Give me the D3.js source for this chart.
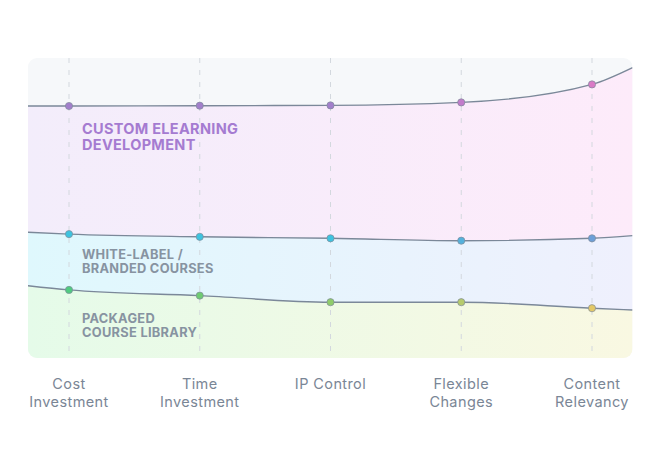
<!DOCTYPE html>
<html><head><meta charset="utf-8">
<script src="https://cdn.jsdelivr.net/npm/d3@7"></script>
<style>
html,body{margin:0;padding:0;background:#fff;}
svg{display:block;}
</style></head>
<body>
<svg id="chart" width="660" height="460"></svg>
<script>
// ---- data ----
const categories = ["Cost Investment","Time Investment","IP Control","Flexible Changes","Content Relevancy"];
const categoryLines = [["Cost","Investment"],["Time","Investment"],["IP Control"],["Flexible","Changes"],["Content","Relevancy"]];
const seriesNames = ["Custom eLearning Development","White-Label / Branded Courses","Packaged Course Library"];
const customValues   = [84.0, 84.1, 84.2, 85.2, 91.2];
const whiteLabelValues = [41.3, 40.4, 39.9, 39.1, 39.9];
const packagedValues = [22.7, 20.8, 18.6, 18.6, 16.6];
// values where each line meets the left / right edge of the panel
const customEdges = [84.0, 96.8];
const whiteLabelEdges = [41.9, 40.8];
const packagedEdges = [24.1, 16.0];
const labelLines = [["CUSTOM ELEARNING","DEVELOPMENT"],["WHITE-LABEL /","BRANDED COURSES"],["PACKAGED","COURSE LIBRARY"]];
const dotColors = [
  ["#a27fcb","#a27fcb","#a27fcb","#c27ccb","#d97ac6"],
  ["#3ec3df","#3ec3df","#3ec3df","#55b1dc","#6d9fd8"],
  ["#50cb80","#6fcb72","#8fcc6b","#b6cb6d","#e3c866"]
];

(function(){
// ---- layout ----
const svg = d3.select("#chart");
const x = d3.scaleLinear().domain([0, 4]).range([69, 592]);
const y = d3.scaleLinear().domain([0, 100]).range([358, 58]);
const edgeIdx = [-0.314, 4.31];
const pLeft = x(edgeIdx[0]), pRight = x(edgeIdx[1]);
const pTop = y(100), pBottom = y(0);

function pts(vals, edges){
  const a = [[edgeIdx[0], edges[0]]];
  vals.forEach((v,i)=>a.push([i, v]));
  a.push([edgeIdx[1], edges[1]]);
  return a;
}
const series = [pts(customValues, customEdges), pts(whiteLabelValues, whiteLabelEdges), pts(packagedValues, packagedEdges)];

const defs = svg.append("defs");
defs.append("clipPath").attr("id","panel").append("rect")
  .attr("x", pLeft).attr("y", pTop).attr("width", pRight-pLeft).attr("height", pBottom-pTop).attr("rx", 9);

function grad(id, c1, c2){
  const g = defs.append("linearGradient").attr("id", id).attr("x1","0").attr("x2","1").attr("y1","0").attr("y2","0");
  g.append("stop").attr("offset","0%").attr("stop-color", c1);
  g.append("stop").attr("offset","100%").attr("stop-color", c2);
}
grad("gCustom", "#f3edfb", "#fdebfa");
grad("gWhite", "#dff8fd", "#eff0fd");
grad("gPack", "#e5fbe9", "#f9f8e2");

const panel = svg.append("g").attr("clip-path","url(#panel)");
panel.append("rect").attr("x", pLeft).attr("y", pTop).attr("width", pRight-pLeft).attr("height", pBottom-pTop).attr("fill","#f6f8fa");

const curve = d3.curveMonotoneX;
const line = d3.line().curve(curve).x(d=>x(d[0])).y(d=>y(d[1]));

function bandPath(upper, lower){
  let p = line(upper);
  if (lower) p += "L" + line(lower.slice().reverse()).slice(1);
  else p += `L${pRight},${pBottom}L${pLeft},${pBottom}`;
  return p + "Z";
}
const fills = ["url(#gCustom)","url(#gWhite)","url(#gPack)"];
panel.append("path").attr("d", bandPath(series[0], series[1])).attr("fill", fills[0]);
panel.append("path").attr("d", bandPath(series[1], series[2])).attr("fill", fills[1]);
panel.append("path").attr("d", bandPath(series[2], null)).attr("fill", fills[2]);

// dashed verticals
panel.selectAll("line.grid").data(categories).enter().append("line")
  .attr("x1",(d,i)=>x(i)).attr("x2",(d,i)=>x(i)).attr("y1", pTop).attr("y2", pBottom)
  .attr("stroke","#d3d8de").attr("stroke-width",1).attr("stroke-dasharray","5,7");

// lines
series.forEach(s=>{
  panel.append("path").attr("d", line(s)).attr("fill","none").attr("stroke","#7b8899").attr("stroke-width",1.4);
});

// dots
[customValues, whiteLabelValues, packagedValues].forEach((vals, si)=>{
  svg.selectAll(null).data(vals).enter().append("circle")
    .attr("cx",(d,i)=>x(i)).attr("cy",d=>y(d)).attr("r",3.6)
    .attr("fill",(d,i)=>dotColors[si][i]).attr("stroke","#7f8b9b").attr("stroke-width",0.7);
});

// series labels
const labelCfg = [
  {color:"#a57bd1", size:14.5, lh:16, base:134},
  {color:"#8793a1", size:12.8, lh:14, base:259},
  {color:"#8793a1", size:12.8, lh:14, base:323}
];
labelLines.forEach((ls, si)=>{
  const c = labelCfg[si];
  const t = svg.append("text").attr("x", 82).attr("y", c.base)
    .attr("font-family","Inter, 'Open Sans', sans-serif").attr("font-weight",700)
    .attr("font-size", c.size).attr("fill", c.color).attr("letter-spacing", 0.3);
  ls.forEach((l,j)=> t.append("tspan").attr("x",82).attr("dy", j===0?0:c.lh).text(l));
});

// axis labels
categoryLines.forEach((ls,i)=>{
  const t = svg.append("text").attr("x", x(i)).attr("y", 389).attr("text-anchor","middle")
    .attr("font-family","Inter, 'Open Sans', sans-serif").attr("font-size",14.5)
    .attr("letter-spacing",0.4).attr("fill","#7a8696");
  ls.forEach((l,j)=> t.append("tspan").attr("x", x(i)).attr("dy", j===0?0:18).text(l));
});
})();
</script>
</body></html>
